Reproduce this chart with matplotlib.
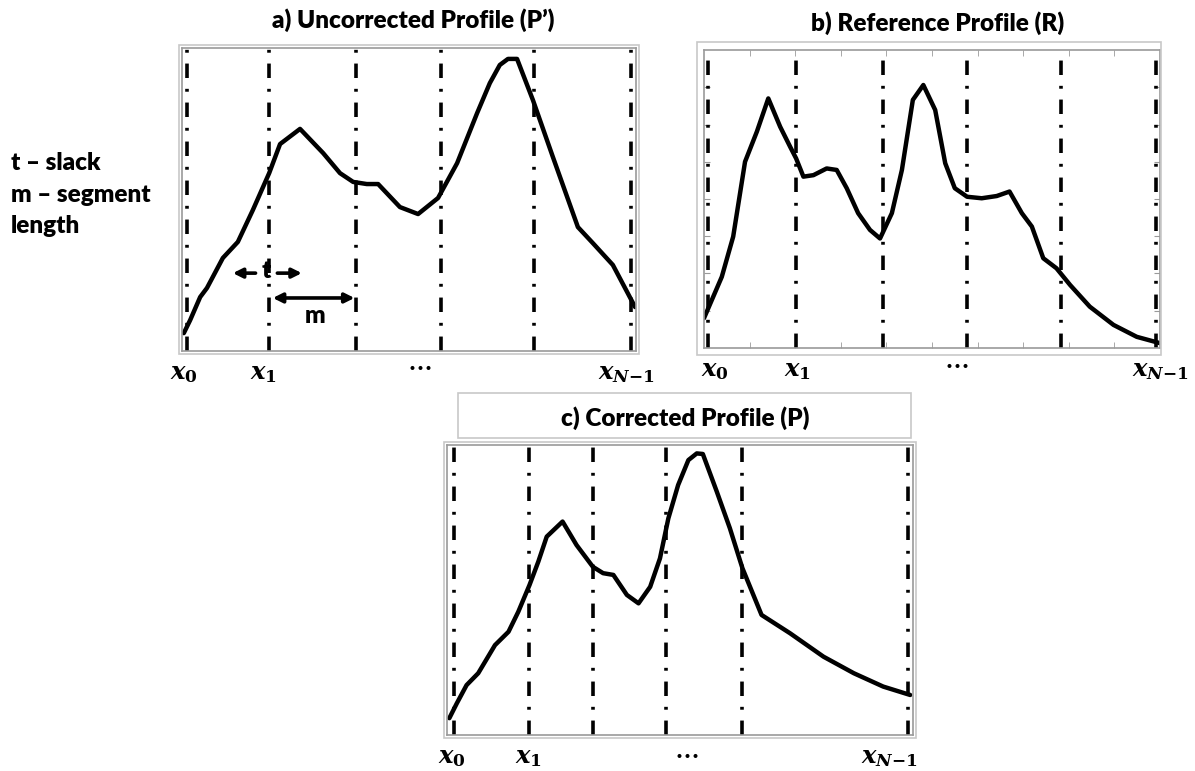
import matplotlib
matplotlib.use("Agg")
import matplotlib.pyplot as plt
from matplotlib.patches import Rectangle

plt.rcParams['font.family'] = ['Lato', 'DejaVu Sans']
plt.rcParams['font.weight'] = 'bold'
plt.rcParams['mathtext.fontset'] = 'custom'
plt.rcParams['mathtext.it'] = 'DejaVu Serif:italic:bold'
plt.rcParams['mathtext.rm'] = 'DejaVu Serif:bold'

# a) uncorrected profile
a_x = [0.4, 1.8, 4.0, 5.5, 9.0, 12.3, 15.6, 19.2, 21.6, 26.0, 31.1, 34.8, 37.7, 40.7, 43.2,
       48.0, 52.0, 56.4, 60.6, 65.0, 67.8, 70.0, 71.8, 73.8, 77.3, 81.7, 87.2, 90.5, 94.9, 99.8]
a_y = [5.9, 10.2, 17.8, 20.8, 30.7, 36.0, 46.5, 58.7, 68.3, 73.3, 65.3, 58.7, 55.8, 55.1, 55.1,
       47.5, 45.2, 50.5, 62.0, 78.5, 88.4, 94.4, 96.4, 96.4, 82.8, 64.0, 40.9, 35.6, 28.4, 14.5]
a_cuts = [1.0, 19.2, 38.3, 57.0, 77.6, 99.0]

# b) reference profile
b_x = [0.0, 0.39, 0.64, 0.90, 1.16, 1.41, 1.67, 1.89, 2.02, 2.18, 2.40, 2.69, 2.91, 3.13, 3.38,
       3.64, 3.86, 4.12, 4.34, 4.58, 4.81, 5.07, 5.29, 5.50, 5.77, 6.09, 6.42, 6.70, 6.97, 7.19,
       7.44, 7.73, 8.03, 8.46, 8.98, 9.49, 10.0]
b_y = [0.80, 1.91, 2.99, 5.00, 5.81, 6.70, 5.94, 5.40, 5.09, 4.60, 4.64, 4.82, 4.78, 4.29, 3.62,
       3.17, 2.94, 3.62, 4.78, 6.66, 7.06, 6.39, 4.96, 4.29, 4.06, 4.02, 4.08, 4.20, 3.62, 3.26,
       2.41, 2.14, 1.69, 1.11, 0.62, 0.30, 0.13]
b_cuts = [0.09, 2.02, 3.92, 5.77, 7.83, 9.91]

# c) corrected profile
c_x = [0.5, 2.1, 4.2, 6.7, 10.3, 13.2, 15.3, 17.7, 19.6, 21.4, 24.8, 27.8, 31.3, 33.5, 35.7,
       38.6, 41.1, 43.6, 45.7, 47.5, 49.6, 51.8, 53.6, 54.9, 57.9, 60.7, 63.4, 67.5, 73.6, 80.8,
       87.3, 93.6, 99.4]
c_y = [5.8, 10.9, 17.2, 21.3, 31.0, 35.6, 42.5, 51.7, 59.8, 68.4, 73.6, 65.5, 58.0, 55.8, 55.2,
       48.3, 45.4, 51.1, 60.9, 74.7, 86.2, 94.8, 97.1, 96.9, 83.9, 71.3, 57.5, 41.4, 35.1, 27.0,
       21.3, 16.7, 13.8]
c_cuts = [1.5, 17.7, 31.3, 47.1, 63.4, 99.0]

tick_labels = ['$x_0$', '$x_1$', '$x_{N{-}1}$']
a_ticks = [0.4, 18.0, 97.8]
b_ticks = [0.24, 2.04, 10.0]
c_ticks = [1.1, 17.4, 95.0]
# where the "..." sits under each panel
a_dots, b_dots, c_dots = 52.4, 5.55, 51.5

W, H = 1195, 771
fig = plt.figure(figsize=(W / 100, H / 100), dpi=100)


def box(x0, y0, x1, y1, color='#c8c8c8', lw=1.2):
    # rectangle in pixel coords of the picture (top-left origin)
    fig.add_artist(Rectangle((x0 / W, 1 - y1 / H), (x1 - x0) / W, (y1 - y0) / H,
                             transform=fig.transFigure, fill=False, ec=color, lw=lw))


def panel(rect, xs, ys, cuts, ticks, dots, dots_off, xlim, ylim):
    ax = fig.add_axes(rect)
    for c in cuts:
        ax.axvline(c, color='black', lw=2.6, ls=(0, (4.0, 3.0, 0.8, 3.0)))
    ax.plot(xs, ys, color='black', lw=3.2, solid_joinstyle='round', solid_capstyle='round')
    ax.set_xlim(*xlim)
    ax.set_ylim(*ylim)
    ax.set_xticks(ticks, tick_labels, fontsize=17.5)
    ax.tick_params(axis='x', length=0, pad=8)
    ax.set_yticks([])
    ax.annotate(r'$\cdots$', xy=(dots, 0), xycoords=('data', 'axes fraction'),
                xytext=(0, -dots_off), textcoords='offset pixels',
                ha='center', va='center', fontsize=17)
    for s in ax.spines.values():
        s.set_color('#9a9a9a')
        s.set_linewidth(1.2)
    return ax


def px_rect(x0, y0, x1, y1):
    return [x0 / W, 1 - y1 / H, (x1 - x0) / W, (y1 - y0) / H]


arrow = dict(lw=2.6, color='black', mutation_scale=14, shrinkA=0, shrinkB=0)

# panel a
ax_a = panel(px_rect(182, 48, 636, 351), a_x, a_y, a_cuts, a_ticks, a_dots, 14,
             (0, 100), (0, 100))
box(179, 45, 639, 354)
ax_a.annotate('', xy=(11.2, 25.7), xytext=(16.2, 25.7), arrowprops=dict(arrowstyle='-|>', **arrow))
ax_a.annotate('', xy=(26.4, 25.7), xytext=(21.0, 25.7), arrowprops=dict(arrowstyle='-|>', **arrow))
ax_a.text(18.6, 26.5, 't', ha='center', va='center', fontsize=17.5, fontweight='heavy')
ax_a.annotate('', xy=(20.0, 17.5), xytext=(38.0, 17.5), arrowprops=dict(arrowstyle='<|-|>', **arrow))
ax_a.text(29.3, 11.5, 'm', ha='center', va='center', fontsize=17.5, fontweight='heavy')
fig.text(413 / W, 1 - 20 / H, 'a) Uncorrected Profile (P’)', ha='center', va='center',
         fontsize=17.5, fontweight='heavy')

# panel b
ax_b = panel(px_rect(704, 50, 1160, 348), b_x, b_y, b_cuts, b_ticks, b_dots, 15,
             (0, 10), (0, 8))
ax_b.set_xticks(range(1, 10), minor=True)
ax_b.set_yticks(range(1, 8))
ax_b.set_yticklabels([])
ax_b.tick_params(axis='x', which='minor', direction='in', length=4, color='#9a9a9a',
                 top=True, bottom=True)
ax_b.tick_params(axis='y', direction='in', length=4, color='#9a9a9a', left=True, right=True)
box(697, 42, 1161, 355)
fig.text(938 / W, 1 - 23 / H, 'b) Reference Profile (R)', ha='center', va='center',
         fontsize=17.5, fontweight='heavy')

# panel c
ax_c = panel(px_rect(447, 445, 913, 735), c_x, c_y, c_cuts, c_ticks, c_dots, 17,
             (0, 100), (0, 100))
box(444, 442, 916, 738)
box(458, 393, 911, 438)
fig.text(685 / W, 1 - 418 / H, 'c) Corrected Profile (P)', ha='center', va='center',
         fontsize=17.5, fontweight='heavy')

# legend text on the left
for i, line in enumerate(['t – slack', 'm – segment', 'length']):
    fig.text(11 / W, 1 - (163 + 31.5 * i) / H, line, ha='left', va='center',
             fontsize=17.5, fontweight='heavy')

fig.savefig('out.png', dpi=100)
